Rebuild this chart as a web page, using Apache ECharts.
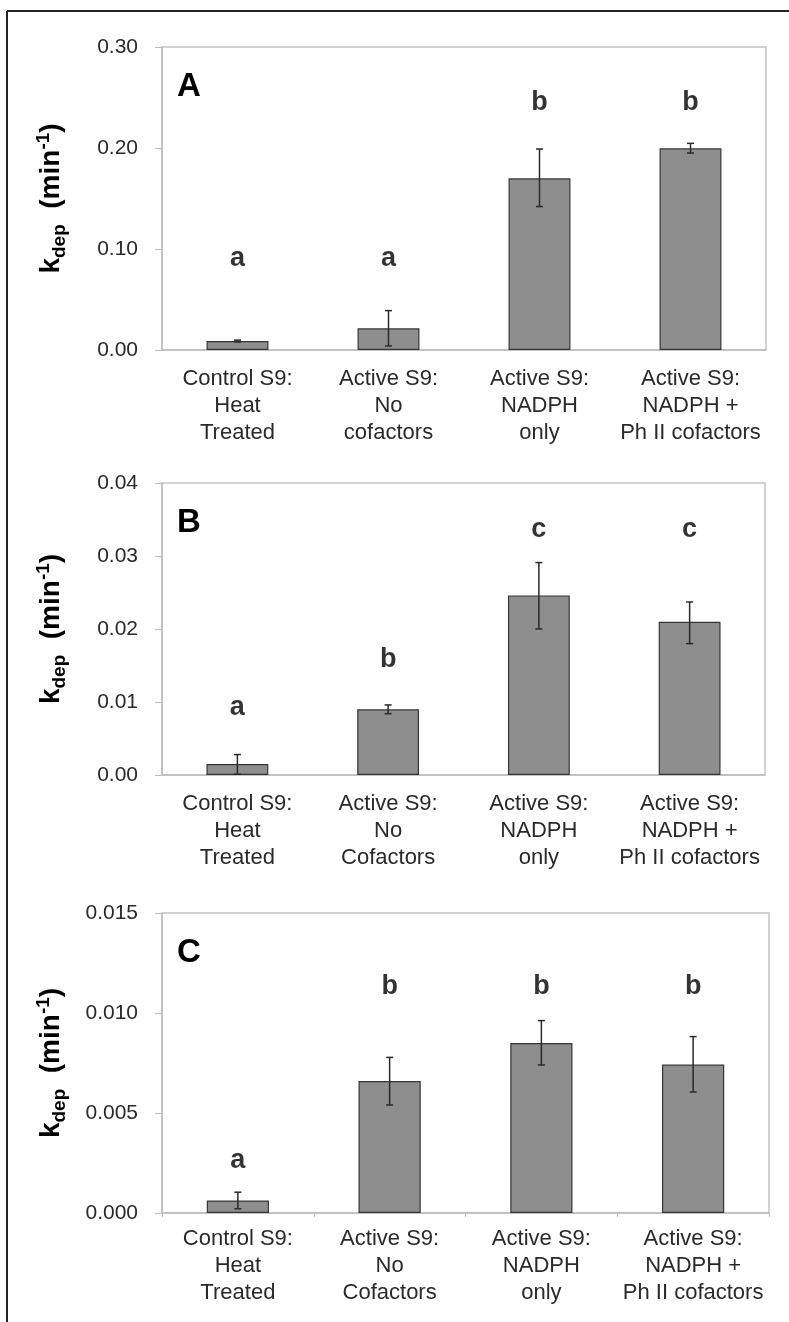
<!DOCTYPE html>
<html>
<head>
<meta charset="utf-8">
<script src="https://cdn.jsdelivr.net/npm/echarts@6/dist/echarts.min.js"></script>
<style>
  html, body { margin: 0; padding: 0; background: #fff; }
  #chart { width: 789px; height: 1322px; }
</style>
</head>
<body>
<div id="chart"></div>
<script>
// ---- Data ----
const categoriesA = ['Control S9:\nHeat\nTreated', 'Active S9:\nNo\ncofactors', 'Active S9:\nNADPH\nonly', 'Active S9:\nNADPH +\nPh II cofactors'];
const categoriesBC = ['Control S9:\nHeat\nTreated', 'Active S9:\nNo\nCofactors', 'Active S9:\nNADPH\nonly', 'Active S9:\nNADPH +\nPh II cofactors'];

const valuesA = [0.0089, 0.0215, 0.170, 0.1997];
const errLowA = [0.0080, 0.0040, 0.142, 0.1950];
const errHighA = [0.0098, 0.0390, 0.199, 0.2046];
const lettersA = ['a', 'a', 'b', 'b'];
const letterLevelA = [0.091, 0.091, 0.245, 0.245];

const valuesB = [0.0015, 0.0090, 0.0246, 0.0210];
const errLowB = [0.0001, 0.0084, 0.0200, 0.0180];
const errHighB = [0.0028, 0.0096, 0.0291, 0.0237];
const lettersB = ['a', 'b', 'c', 'c'];
const letterLevelB = [0.0093, 0.0158, 0.0336, 0.0336];

const valuesC = [0.000625, 0.0066, 0.0085, 0.00742];
const errLowC = [0.00021, 0.0054, 0.0074, 0.00605];
const errHighC = [0.00104, 0.00778, 0.00962, 0.00882];
const lettersC = ['a', 'b', 'b', 'b'];
const letterLevelC = [0.0026, 0.0113, 0.0113, 0.0113];

const yTicksA = { max: 0.30, interval: 0.10, digits: 2 };
const yTicksB = { max: 0.04, interval: 0.01, digits: 2 };
const yTicksC = { max: 0.015, interval: 0.005, digits: 3 };

const panelNames = ['A', 'B', 'C'];

// ---- Chart ----
const FONT = "'Liberation Sans', Arial, sans-serif";
const chart = echarts.init(document.getElementById('chart'), null, { renderer: 'canvas' });

const grids = [
  { left: 162, top: 47, width: 604, height: 303 },
  { left: 162, top: 483, width: 603, height: 292 },
  { left: 162, top: 913, width: 607, height: 300 }
];

const panels = [
  { cats: categoriesA, vals: valuesA, lo: errLowA, hi: errHighA, letters: lettersA, lv: letterLevelA, y: yTicksA, xticks: false, lblMargin: 15 },
  { cats: categoriesBC, vals: valuesB, lo: errLowB, hi: errHighB, letters: lettersB, lv: letterLevelB, y: yTicksB, xticks: false, lblMargin: 15 },
  { cats: categoriesBC, vals: valuesC, lo: errLowC, hi: errHighC, letters: lettersC, lv: letterLevelC, y: yTicksC, xticks: true, lblMargin: 12 }
];

const xAxes = [], yAxes = [], series = [], titles = [];
panels.forEach((p, i) => {
  xAxes.push({
    type: 'category', gridIndex: i, data: p.cats, boundaryGap: true,
    axisLine: { show: true, lineStyle: { color: '#bdbdbd', width: 1.5 } },
    axisTick: { show: p.xticks, length: 4, inside: false, lineStyle: { color: '#bdbdbd', width: 1 } },
    axisLabel: { interval: 0, fontFamily: FONT, fontSize: 22, lineHeight: 27, color: '#2a2a2a', margin: p.lblMargin }
  });
  yAxes.push({
    type: 'value', gridIndex: i, min: 0, max: p.y.max, interval: p.y.interval,
    axisLine: { show: true, lineStyle: { color: '#bdbdbd', width: 1.5 } },
    axisTick: { show: true, length: 7, lineStyle: { color: '#bdbdbd', width: 1 } },
    splitLine: { show: false },
    axisLabel: { fontFamily: FONT, fontSize: 21, color: '#2a2a2a', margin: 24,
      formatter: (v) => v.toFixed(p.y.digits) },
    name: '{k|k}{sub|dep}{t|  (min}{sup|-1}{t|)}',
    nameLocation: 'middle', nameRotate: 90, nameGap: 94,
    nameTextStyle: {
      rich: {
        k: { fontFamily: FONT, fontSize: 28, fontWeight: 'bold', color: '#000', lineHeight: 34 },
        t: { fontFamily: FONT, fontSize: 28, fontWeight: 'bold', color: '#000', lineHeight: 34 },
        sub: { fontFamily: FONT, fontSize: 19, fontWeight: 'bold', color: '#000', lineHeight: 19, padding: [17, 0, 0, 0] },
        sup: { fontFamily: FONT, fontSize: 19, fontWeight: 'bold', color: '#000', lineHeight: 19, padding: [0, 0, 15, 0] }
      }
    }
  });
  series.push({
    type: 'bar', xAxisIndex: i, yAxisIndex: i, data: p.vals, barWidth: '41%',
    itemStyle: { color: '#8e8e8e', borderColor: '#363636', borderWidth: 1.2 },
    silent: true, animation: false
  });
  series.push({
    type: 'custom', xAxisIndex: i, yAxisIndex: i,
    data: p.vals.map((v, j) => [j, p.lo[j], p.hi[j]]),
    renderItem: function (params, api) {
      const x = api.value(0);
      const lo = api.coord([x, api.value(1)]);
      const hi = api.coord([x, api.value(2)]);
      const cw = 3.5;
      const st = { stroke: '#2a2a2a', lineWidth: 1.5 };
      return {
        type: 'group', children: [
          { type: 'line', shape: { x1: lo[0], y1: lo[1], x2: hi[0], y2: hi[1] }, style: st },
          { type: 'line', shape: { x1: hi[0] - cw, y1: hi[1], x2: hi[0] + cw, y2: hi[1] }, style: st },
          { type: 'line', shape: { x1: lo[0] - cw, y1: lo[1], x2: lo[0] + cw, y2: lo[1] }, style: st }
        ]
      };
    },
    z: 5, silent: true, animation: false
  });
  series.push({
    type: 'scatter', xAxisIndex: i, yAxisIndex: i, symbolSize: 0,
    data: p.lv.map((v, j) => [j, v, p.letters[j]]),
    label: { show: true, position: 'inside', formatter: (d) => d.data[2],
      fontFamily: FONT, fontSize: 27, fontWeight: 'bold', color: '#000' },
    silent: true, animation: false
  });
  titles.push({
    text: panelNames[i], left: grids[i].left + 10, top: grids[i].top + 18,
    textStyle: { fontFamily: FONT, fontSize: 33, fontWeight: 'bold', color: '#000' }
  });
});

chart.setOption({
  animation: false,
  backgroundColor: '#fff',
  title: titles,
  grid: grids.map(g => Object.assign({ show: true, borderColor: '#c4c4c4', borderWidth: 1.5, containLabel: false }, g)),
  xAxis: xAxes,
  yAxis: yAxes,
  series: series,
  graphic: [
    { type: 'line', shape: { x1: 7, y1: 11, x2: 789, y2: 11 }, style: { stroke: '#222', lineWidth: 2 } },
    { type: 'line', shape: { x1: 7, y1: 11, x2: 7, y2: 1322 }, style: { stroke: '#222', lineWidth: 2 } }
  ]
});
</script>
</body>
</html>
